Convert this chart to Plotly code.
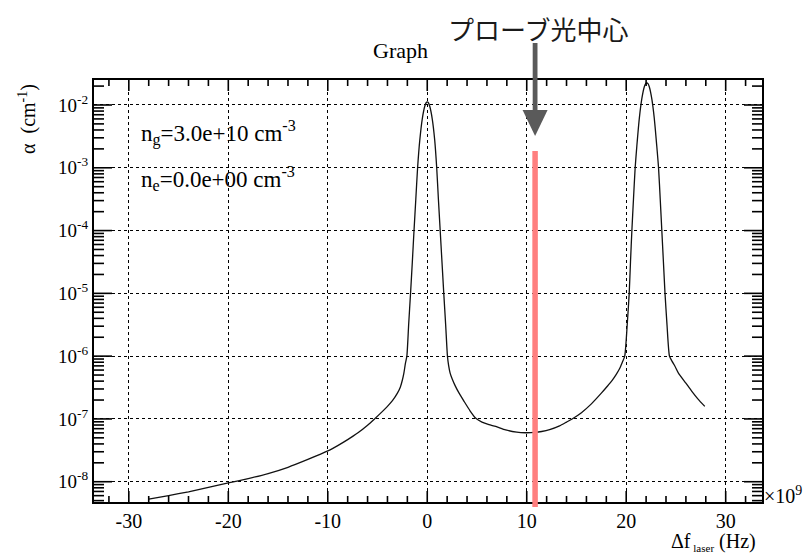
import math
import plotly.graph_objects as go

# ---------------- data ----------------
freq_ghz = [
    -28.0, -26.0, -24.0, -22.0, -20.0, -18.0, -16.0, -14.0, -12.0, -10.0,
    -9.0, -8.0, -7.0, -6.0, -5.3, -4.5, -4.0, -3.5, -3.0, -2.7, -2.5, -2.35, -2.2,
    -2.05, -1.87, -1.68, -1.5, -1.33, -1.15, -0.97, -0.75, -0.5, -0.25, -0.1, 0.0,
    0.1, 0.25, 0.5, 0.75, 0.95, 1.12, 1.3, 1.48, 1.66, 1.85, 2.03,
    2.15, 2.3, 2.5, 2.8, 3.2, 3.7, 4.3, 4.88, 5.5, 6.2, 6.88, 7.88, 9.0, 9.87,
    10.8, 11.5, 12.3, 13.3, 14.0, 14.56, 15.5, 16.5, 17.5, 18.1, 18.57, 19.0,
    19.3, 19.6, 19.85,
    20.1, 20.3, 20.43, 20.57, 20.73, 20.9, 21.07, 21.32, 21.57, 21.82, 21.95, 22.07,
    22.19, 22.32, 22.57, 22.82, 23.07, 23.25, 23.42, 23.58, 23.74, 23.9, 24.1, 24.35,
    24.6, 24.9, 25.25, 26.0, 26.6, 27.2, 27.9,
]
log10_alpha = [
    -8.276, -8.22, -8.16, -8.09, -8.02, -7.95, -7.87, -7.77, -7.645, -7.51,
    -7.425, -7.33, -7.225, -7.10, -7.00, -6.88, -6.80, -6.71, -6.59, -6.49, -6.38, -6.27, -6.12,
    -6.0, -5.5, -5.0, -4.5, -4.0, -3.5, -3.0, -2.56, -2.22, -2.02, -1.96, -1.95,
    -1.96, -2.02, -2.22, -2.56, -3.0, -3.5, -4.0, -4.5, -5.0, -5.5, -6.0,
    -6.15, -6.27, -6.36, -6.47, -6.59, -6.72, -6.87, -6.99, -7.05, -7.09, -7.12, -7.175, -7.21, -7.22,
    -7.215, -7.20, -7.17, -7.11, -7.05, -7.0, -6.9, -6.76, -6.59, -6.48, -6.39, -6.29,
    -6.21, -6.10, -6.0,
    -5.5, -5.0, -4.5, -4.0, -3.5, -3.0, -2.65, -2.21, -1.90, -1.71, -1.66, -1.65,
    -1.66, -1.71, -1.90, -2.21, -2.65, -3.0, -3.5, -4.0, -4.5, -5.0, -5.5, -6.0,
    -6.08, -6.16, -6.27, -6.43, -6.56, -6.68, -6.80,
]
alpha_cm = [10.0 ** v for v in log10_alpha]

probe_freq = 10.84          # GHz
probe_top_alpha = 1.85e-3   # cm^-1 (top of the red marker)

xtick_vals = [-30, -20, -10, 0, 10, 20, 30]
xtick_text = ["-30", "-20", "-10", "0", "10", "20", "30"]
xminor_vals = [v for v in range(-32, 33, 2) if v % 10 != 0]
ytick_exps = [-8, -7, -6, -5, -4, -3, -2]
ytick_text = ["10<sup>%d</sup>" % e for e in ytick_exps]
yminor_mult = [2, 3, 4, 5, 6, 7, 8, 9]

title_text = "Graph"
probe_label = "プローブ光中心"
info_lines = ["n<sub>g</sub>=3.0e+10 cm<sup>-3</sup>",
              "n<sub>e</sub>=0.0e+00 cm<sup>-3</sup>"]
x_title = "Δf<sub><span style='font-size:11px'> laser</span></sub> (Hz)"
y_title = "α  (cm<sup>-1</sup>)"
x_multiplier = "×10<sup>9</sup>"

# ---------------- layout geometry ----------------
W, H = 805, 554
L, R, T, B = 94, 762, 80, 502
X_RANGE = [-33.5, 33.65]
Y_RANGE = [-8.323, -1.602]
SERIF = "Liberation Serif, Times New Roman, Times, serif"


def px(x):
    return (x - L) / (R - L)


def py(y):
    return (B - y) / (B - T)


def ylog_paper(val):
    return (math.log10(val) - Y_RANGE[0]) / (Y_RANGE[1] - Y_RANGE[0])


xs = (R - L) / (X_RANGE[1] - X_RANGE[0])          # pixels per x unit
PW, PH = R - L, B - T

fig = go.Figure()
fig.add_trace(go.Scatter(
    x=freq_ghz, y=alpha_cm, mode="lines",
    line=dict(color="#111111", width=1.3, shape="spline", smoothing=0.6),
    showlegend=False, hoverinfo="skip",
))

# tick marks as one polyline trace (inside ticks on all four sides, ROOT style)
tx, ty = [], []
ylo, yhi = Y_RANGE
ppd = PH / (yhi - ylo)
for v in xtick_vals + xminor_vals:
    if v < X_RANGE[0] or v > X_RANGE[1]:
        continue
    d = (11 if v in xtick_vals else 6) / ppd
    tx += [v, v, None, v, v, None]
    ty += [10 ** ylo, 10 ** (ylo + d), None, 10 ** yhi, 10 ** (yhi - d), None]
for e in range(-9, -1):
    for m in [1] + yminor_mult:
        val = m * 10.0 ** e
        lv = math.log10(val)
        if lv < ylo or lv > yhi:
            continue
        d = (18 if m == 1 else 10) / xs
        tx += [X_RANGE[0], X_RANGE[0] + d, None, X_RANGE[1], X_RANGE[1] - d, None]
        ty += [val, val, None, val, val, None]
fig.add_trace(go.Scatter(
    x=tx, y=ty, mode="lines", line=dict(color="black", width=1.6),
    showlegend=False, hoverinfo="skip", connectgaps=False,
))

axis_common = dict(
    showline=True, linecolor="black", linewidth=2, mirror=True,
    ticks="",
    showgrid=True, gridcolor="black", griddash="dot", gridwidth=1,
    zeroline=False,
)

fig.update_xaxes(
    range=X_RANGE, tickmode="array", tickvals=xtick_vals, ticktext=xtick_text,
    tickfont=dict(family=SERIF, size=20, color="black"),
    **axis_common,
)
fig.update_yaxes(
    type="log", range=Y_RANGE, tickmode="array",
    tickvals=[10.0 ** e for e in ytick_exps], ticktext=ytick_text,
    tickfont=dict(family=SERIF, size=19, color="black"),
    **axis_common,
)

shapes = []
# probe marker (red vertical bar)
shapes.append(dict(
    type="line", xref="x", yref="paper",
    x0=probe_freq, x1=probe_freq, y0=py(507), y1=ylog_paper(probe_top_alpha),
    line=dict(color="#ff7f7f", width=5.5), layer="above",
))
# arrow shaft
shapes.append(dict(
    type="rect", xref="x", yref="paper",
    x0=probe_freq - 2.4 / xs, x1=probe_freq + 2.4 / xs, y0=py(111), y1=py(43),
    fillcolor="#5a5a5a", line=dict(width=0), layer="above",
))
# arrow head
hx0, hx1 = probe_freq - 12.5 / xs, probe_freq + 12.5 / xs
shapes.append(dict(
    type="path", xref="x", yref="paper",
    path="M %f,%f L %f,%f L %f,%f Z" % (hx0, py(110), hx1, py(110), probe_freq, py(136)),
    fillcolor="#5a5a5a", line=dict(width=0), layer="above",
))

annotations = [
    dict(text=title_text, x=px(400), y=py(51), xref="paper", yref="paper",
         xanchor="center", yanchor="middle", showarrow=False,
         font=dict(family=SERIF, size=22, color="black")),
    dict(text=probe_label, x=px(538), y=py(28), xref="paper", yref="paper",
         xanchor="center", yanchor="middle", showarrow=False,
         font=dict(family="Noto Sans CJK JP", size=26, color="#1a1a1a")),
    dict(text=info_lines[0], x=px(139), y=py(133), xref="paper", yref="paper",
         xanchor="left", yanchor="middle", showarrow=False,
         font=dict(family=SERIF, size=23, color="black")),
    dict(text=info_lines[1], x=px(139), y=py(178), xref="paper", yref="paper",
         xanchor="left", yanchor="middle", showarrow=False,
         font=dict(family=SERIF, size=23, color="black")),
    dict(text=x_multiplier, x=px(762), y=py(495), xref="paper", yref="paper",
         xanchor="left", yanchor="middle", showarrow=False,
         font=dict(family=SERIF, size=20, color="black")),
    dict(text=x_title, x=px(758), y=py(542), xref="paper", yref="paper",
         xanchor="right", yanchor="middle", showarrow=False,
         font=dict(family=SERIF, size=20, color="black")),
    dict(text=y_title, x=px(27), y=py(119), xref="paper", yref="paper",
         xanchor="center", yanchor="middle", showarrow=False, textangle=-90,
         font=dict(family=SERIF, size=20, color="black")),
]

fig.update_layout(
    width=W, height=H,
    margin=dict(l=L, r=W - R, t=T, b=H - B, pad=0),
    paper_bgcolor="white", plot_bgcolor="white",
    font=dict(family=SERIF, color="black"),
    shapes=shapes, annotations=annotations,
    showlegend=False,
)

fig.write_html("out.html")
